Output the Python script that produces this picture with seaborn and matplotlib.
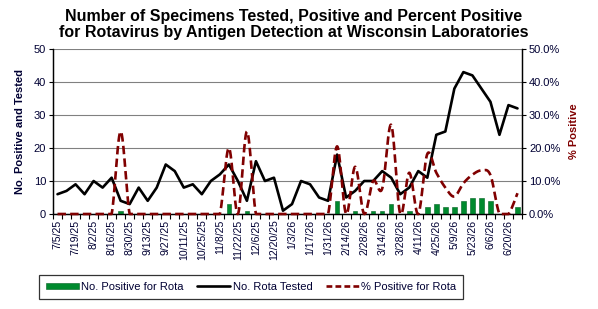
import numpy as np
import pandas as pd
import matplotlib
matplotlib.use("Agg")
import matplotlib.pyplot as plt
import seaborn as sns

# ---- data ----
weeks = ["7/5/25", "7/12/25", "7/19/25", "7/26/25", "8/2/25", "8/9/25", "8/16/25", "8/23/25",
         "8/30/25", "9/6/25", "9/13/25", "9/20/25", "9/27/25", "10/4/25", "10/11/25", "10/18/25",
         "10/25/25", "11/1/25", "11/8/25", "11/15/25", "11/22/25", "11/29/25", "12/6/25", "12/13/25",
         "12/20/25", "12/27/25", "1/3/26", "1/10/26", "1/17/26", "1/24/26", "1/31/26", "2/7/26",
         "2/14/26", "2/21/26", "2/28/26", "3/7/26", "3/14/26", "3/21/26", "3/28/26", "4/4/26",
         "4/11/26", "4/18/26", "4/25/26", "5/2/26", "5/9/26", "5/16/26", "5/23/26", "5/30/26",
         "6/6/26", "6/13/26", "6/20/26", "6/27/26"]
tested = [6, 7, 9, 6, 10, 8, 11, 4, 3, 8, 4, 8, 15, 13, 8, 9, 6, 10, 12, 15, 10, 4, 16, 10,
          11, 1, 3, 10, 9, 5, 4, 18, 5, 7, 10, 10, 13, 11, 6, 8, 13, 11, 24, 25, 38, 43,
          42, 38, 34, 24, 33, 32]
positive = [0, 0, 0, 0, 0, 0, 0, 1, 0, 0, 0, 0, 0, 0, 0, 0, 0, 0, 0, 3, 0, 1, 0, 0,
            0, 0, 0, 0, 0, 0, 0, 4, 0, 1, 0, 1, 1, 3, 0, 1, 0, 2, 3, 2, 2, 4,
            5, 5, 4, 0, 0, 2]
pct_positive = [0, 0, 0, 0, 0, 0, 0, 25.0, 0, 0, 0, 0, 0, 0, 0, 0, 0, 0, 0, 20.0, 0, 25.0, 0, 0,
                0, 0, 0, 0, 0, 0, 0, 20.5, 0, 14.3, 0, 10.0, 7.7, 27.0, 0, 12.5, 0, 18.2, 12.5, 8.0, 5.3, 9.3,
                11.9, 13.2, 11.8, 0, 0, 6.3]

df = pd.DataFrame({"k": np.arange(len(weeks)), "week": weeks, "tested": tested,
                   "positive": positive, "pct": pct_positive})

# Excel-style smoothed curve (cubic Bezier through the data points)
def smooth(x, y, n=30):
    x = np.asarray(x, float); y = np.asarray(y, float)
    xs, ys = [], []
    N = len(x)
    for i in range(N - 1):
        p0 = np.array([x[max(i - 1, 0)], y[max(i - 1, 0)]])
        p1 = np.array([x[i], y[i]])
        p2 = np.array([x[i + 1], y[i + 1]])
        p3 = np.array([x[min(i + 2, N - 1)], y[min(i + 2, N - 1)]])
        c1 = p1 + (p2 - p0) / 6.0
        c2 = p2 - (p3 - p1) / 6.0
        t = np.linspace(0, 1, n, endpoint=(i == N - 2))[:, None]
        pts = ((1 - t) ** 3) * p1 + 3 * ((1 - t) ** 2) * t * c1 + 3 * (1 - t) * t ** 2 * c2 + t ** 3 * p2
        xs.append(pts[:, 0]); ys.append(pts[:, 1])
    return np.concatenate(xs), np.maximum(np.concatenate(ys), 0)

sx, sy = smooth(df["k"], df["pct"])
sdf = pd.DataFrame({"x": sx, "y": sy})

# ---- style ----
sns.set_theme(style="white")
plt.rcParams["font.family"] = ["Liberation Sans", "DejaVu Sans"]
txt = "#000033"
red = "#800000"
green = "#008a2e"

fig = plt.figure(figsize=(5.98, 3.09), dpi=100)
ax = fig.add_axes([53 / 598, 1 - 214 / 309, (522 - 53) / 598, (214 - 49) / 309])
ax2 = ax.twinx()

sns.barplot(data=df, x="k", y="positive", order=list(df["k"]), color=green,
            width=0.5, ax=ax, saturation=1, edgecolor="#006020", linewidth=0.4, zorder=3)
sns.lineplot(data=df, x="k", y="tested", ax=ax, color="black", lw=1.9, zorder=4)
sns.lineplot(data=sdf, x="x", y="y", ax=ax2, color=red, lw=1.9, estimator=None,
             sort=False, dashes=False, zorder=5)
ax2.lines[-1].set_dashes([3.2, 1.6])
ax2.lines[-1].set_clip_on(False)

ax.set_xlim(-0.5, len(weeks) - 0.5)
ax.set_ylim(0, 50)
ax2.set_ylim(0, 50)
ax.set_yticks(range(0, 51, 10))
ax2.set_yticks(range(0, 51, 10))
ax2.set_yticklabels([f"{v:.1f}%" for v in range(0, 51, 10)])
ax.grid(axis="y", color="#808080", lw=0.8, zorder=0)
ax.set_axisbelow(True)
ax2.grid(False)

# x ticks: labels every 2 weeks, tick marks at category boundaries
ax.set_xticks(df["k"][::2])
ax.set_xticklabels(df["week"][::2], rotation=90, fontsize=7.6, color=txt)
ax.set_xticks(np.arange(-0.5, len(weeks)), minor=True)
ax.tick_params(axis="x", which="major", length=0, pad=4)
ax.tick_params(axis="x", which="minor", length=3.5, width=0.8, color="black", direction="out", bottom=True)
ax.tick_params(axis="y", length=3, width=0.8, direction="out", left=True, labelsize=8, colors=txt, pad=2)
ax2.tick_params(axis="y", length=3, width=0.8, direction="out", right=True, labelsize=8, colors=txt, pad=2)
for a in (ax, ax2):
    a.tick_params(axis="y", color="black")

for a in (ax, ax2):
    a.spines["top"].set_visible(False)
    for s in ("left", "right", "bottom"):
        a.spines[s].set_color("black")
        a.spines[s].set_linewidth(0.9)
ax.set_xlabel("")
ax.set_ylabel("No. Positive and Tested", fontsize=8, fontweight="bold", color=txt, labelpad=6)
ax2.set_ylabel("% Positive", fontsize=8, fontweight="bold", color=red, labelpad=6)

fig.text(293.5 / 598, 1 - 8.5 / 309, "Number of Specimens Tested, Positive and Percent Positive\n"
         "for Rotavirus by Antigen Detection at Wisconsin Laboratories",
         ha="center", va="top", fontsize=11.5, fontweight="bold", color="black", linespacing=1.12)

# legend
from matplotlib.patches import Patch
from matplotlib.lines import Line2D
handles = [Patch(facecolor=green, edgecolor="#006020", linewidth=0.4),
           Line2D([0], [0], color="black", lw=1.9),
           Line2D([0], [0], color=red, lw=1.9, dashes=[2.2, 1.2])]
labels = ["No. Positive for Rota", "No. Rota Tested", "% Positive for Rota"]
leg = fig.legend(handles, labels, loc="center", bbox_to_anchor=(251 / 598, 1 - 287 / 309),
                 ncol=3, fontsize=8, frameon=True, fancybox=False, edgecolor="black",
                 handlelength=3.0, handleheight=0.5, handletextpad=0.2, columnspacing=1.2,
                 borderpad=0.6, labelcolor=txt)
leg.get_frame().set_linewidth(0.9)

fig.savefig("out.png", dpi=100)
